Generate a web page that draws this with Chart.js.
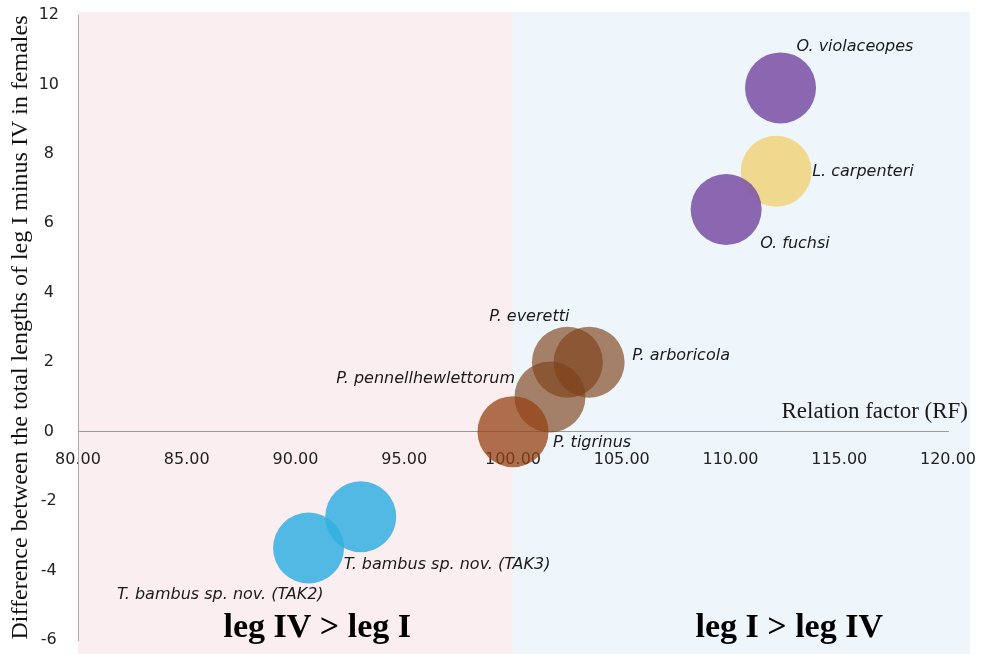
<!DOCTYPE html>
<html>
<head>
<meta charset="utf-8">
<script src="https://cdn.jsdelivr.net/npm/chart.js@4.4.1/dist/chart.umd.min.js"></script>
<style>
  html, body { margin: 0; padding: 0; background: #fff; }
  #wrap { width: 983px; height: 654px; position: relative; }
</style>
</head>
<body>
<div id="wrap"><canvas id="chartRF"></canvas></div>
<script>
// datos
const especies = ["O. violaceopes", "L. carpenteri", "O. fuchsi", "P. everetti", "P. arboricola",
                  "P. pennellhewlettorum", "P. tigrinus", "T. bambus sp. nov. (TAK3)", "T. bambus sp. nov. (TAK2)"];
const factorRF = [112.3, 112.1, 109.8, 102.5, 103.5, 101.7, 100.0, 93.0, 90.6];
const diferencia = [9.9, 7.5, 6.4, 2.0, 2.0, 1.0, 0.0, -2.45, -3.35];
const ticksX = [80, 85, 90, 95, 100, 105, 110, 115, 120];
const ticksY = [-6, -4, -2, 0, 2, 4, 6, 8, 10, 12];

const colores = [
    "rgba(128,88,168,0.9)",
    "rgba(240,205,100,0.72)",
    "rgba(128,88,168,0.9)",
    "rgba(125,65,25,0.65)",
    "rgba(125,65,25,0.65)",
    "rgba(125,65,25,0.65)",
    "rgba(150,65,20,0.75)",
    "rgba(50,175,225,0.85)",
    "rgba(50,175,225,0.85)"
];

// donde va cada etiqueta respecto al centro de la burbuja
const posEtiquetas = [
    { dx: 16, dy: -41, align: "left" },
    { dx: 36, dy: 1, align: "left" },
    { dx: 34, dy: 34, align: "left" },
    { dx: 2, dy: -45, align: "right" },
    { dx: 43, dy: -6, align: "left" },
    { dx: -35, dy: -18, align: "right" },
    { dx: 40, dy: 11, align: "left" },
    { dx: -17, dy: 48, align: "left" },
    { dx: 15, dy: 47, align: "right" }
];

const puntos = factorRF.map((x, i) => ({ x: x, y: diferencia[i] }));

const fondo = {
    id: "fondo",
    beforeDraw(chart) {
        const ctx = chart.ctx;
        const a = chart.chartArea;
        const sx = chart.scales.x;
        const mid = sx.getPixelForValue(100);
        ctx.save();
        ctx.fillStyle = "#ffffff";
        ctx.fillRect(0, 0, chart.width, chart.height);
        ctx.fillStyle = "rgb(251,238,240)";
        ctx.fillRect(a.left, a.top - 3, mid - a.left, chart.height - a.top + 3);
        ctx.fillStyle = "rgb(239,246,251)";
        ctx.fillRect(mid, a.top - 3, a.right + 22 - mid, chart.height - a.top + 3);
        ctx.restore();
    }
};

const textos = {
    id: "textos",
    afterDatasetsDraw(chart) {
        const ctx = chart.ctx;
        const a = chart.chartArea;
        const sx = chart.scales.x;
        const sy = chart.scales.y;
        const meta = chart.getDatasetMeta(0);
        ctx.save();
        ctx.fillStyle = "#1a1a1a";
        ctx.textBaseline = "middle";
        ctx.font = "italic 16px 'DejaVu Sans'";
        meta.data.forEach((el, i) => {
            const p = posEtiquetas[i];
            ctx.textAlign = p.align;
            ctx.fillText(especies[i], el.x + p.dx, el.y + p.dy);
        });
        ctx.font = "23px 'Liberation Serif'";
        ctx.textAlign = "right";
        ctx.fillText("Relation factor (RF)", a.right + 20, sy.getPixelForValue(0) - 20);
        ctx.fillStyle = "#000";
        ctx.font = "bold 34px 'Liberation Serif'";
        ctx.textAlign = "center";
        ctx.fillText("leg IV > leg I", sx.getPixelForValue(91), a.bottom - 12);
        ctx.fillText("leg I > leg IV", sx.getPixelForValue(112.7), a.bottom - 12);
        ctx.restore();
    }
};

new Chart(document.getElementById("chartRF"), {
    type: "bubble",
    data: {
        datasets: [{
            label: "RF",
            data: puntos,
            backgroundColor: colores,
            borderWidth: 0,
            radius: 35.5,
            hoverRadius: 0
        }]
    },
    options: {
        responsive: true,
        maintainAspectRatio: false,
        animation: false,
        layout: { autoPadding: false, padding: { top: 15, right: 35, bottom: 14, left: 0 } },
        plugins: {
            legend: { display: false },
            tooltip: { enabled: false }
        },
        scales: {
            x: {
                type: "linear",
                position: { y: 0 },
                min: 80,
                max: 120,
                afterFit: (s) => {
                    s.height = 0;
                    s.paddingLeft = 0; s.paddingRight = 0;
                },
                afterBuildTicks: (s) => { s.ticks = ticksX.map(v => ({ value: v })); },
                grid: { display: false, drawTicks: false },
                border: { display: true, color: "#9a9a9a", width: 1 },
                ticks: {
                    padding: 19,
                    color: "#222",
                    font: { family: "'DejaVu Sans'", size: 16 },
                    callback: (v) => Number(v).toFixed(2),
                    maxRotation: 0
                }
            },
            y: {
                type: "linear",
                position: "left",
                min: -6,
                max: 12,
                afterFit: (s) => {
                    s.width = 78;
                    s.paddingTop = 0; s.paddingBottom = 0;
                },
                afterBuildTicks: (s) => { s.ticks = ticksY.map(v => ({ value: v })); },
                grid: { display: false, drawTicks: false },
                border: { display: true, color: "#b0a8a8", width: 1 },
                ticks: {
                    padding: 19,
                    crossAlign: "center",
                    color: "#222",
                    font: { family: "'DejaVu Sans'", size: 16 }
                },
                title: {
                    display: true,
                    text: "Difference between the total lengths of leg I minus IV in females",
                    color: "#111",
                    font: { family: "'Liberation Serif'", size: 24 },
                    padding: { top: 6, bottom: 0 }
                }
            }
        }
    },
    plugins: [fondo, textos]
});
</script>
</body>
</html>
